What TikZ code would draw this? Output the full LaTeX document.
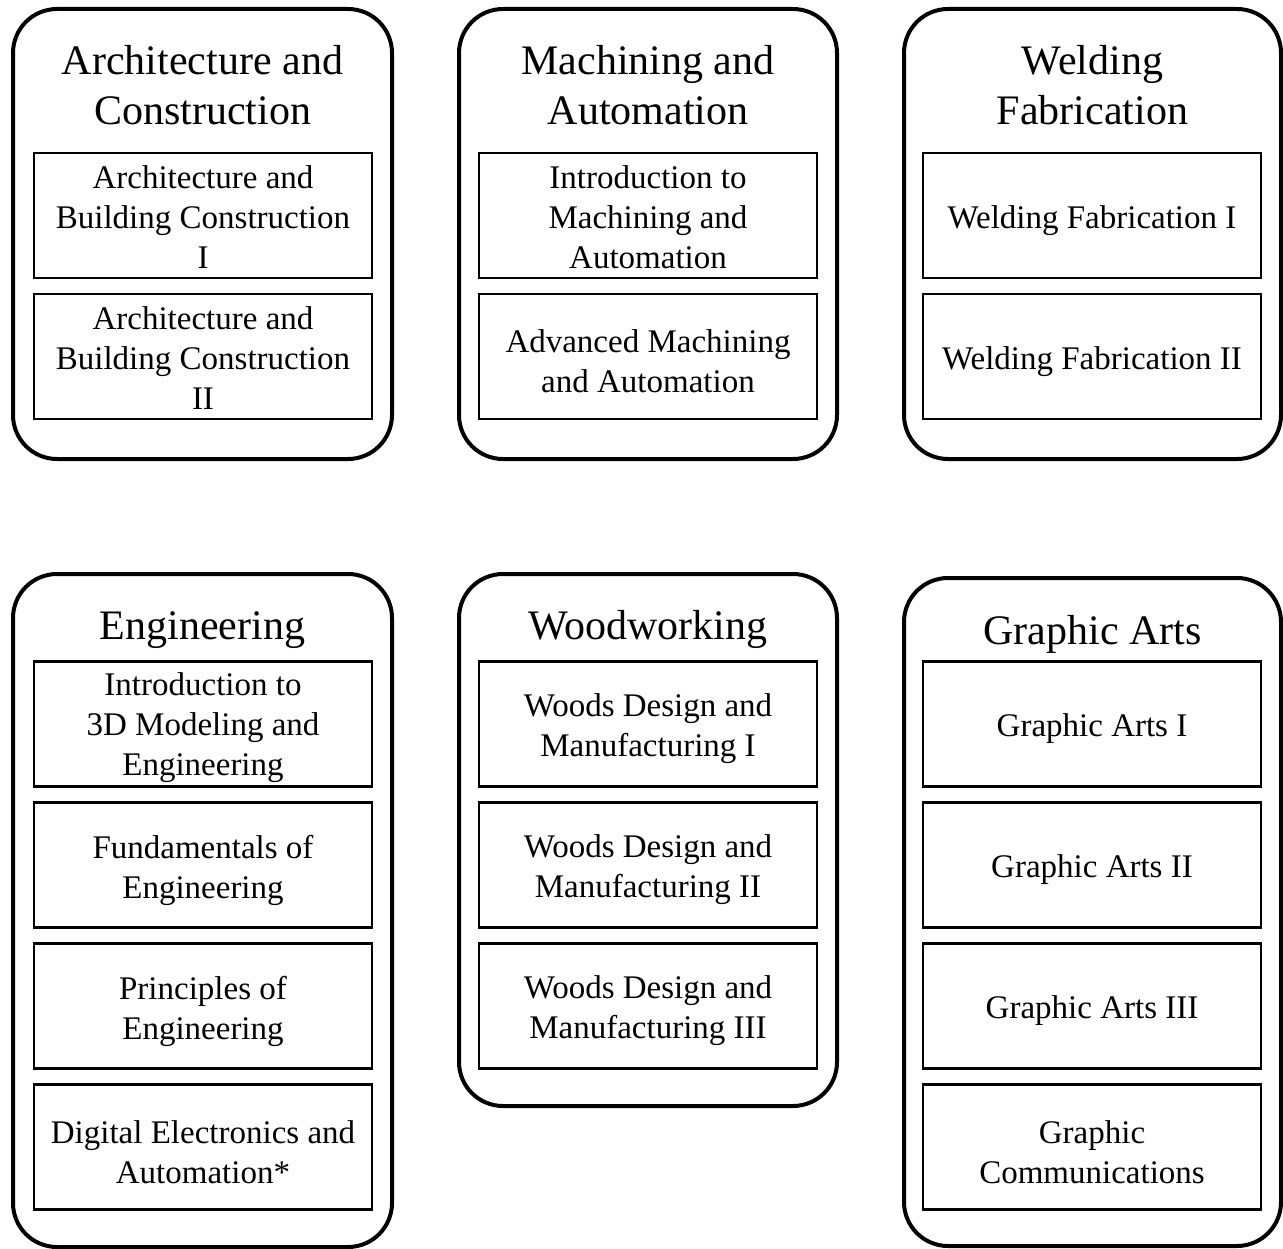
\documentclass[tikz,border=0pt]{standalone}
\usepackage{fontspec}
\setmainfont{Liberation Serif}
\newcommand\coursenode[4][-5pt]{%
  \node[coursebox] (#2) at (#3) {};
  \node[coursetext] (#2t) at ([yshift=#1]#2.center) {#4};}
\begin{document}
\begin{tikzpicture}[x=1pt,y=-1pt,
  outerbox/.style={draw, line width=4pt, rounded corners=44pt, inner sep=0pt},
  coursebox/.style={draw, line width=2.6pt, inner sep=0pt, minimum width=338pt, minimum height=125pt},
  coursetext/.style={align=center, inner sep=0pt, font=\fontsize{33}{40}\selectfont},
  heading/.style={align=center, inner sep=0pt, font=\fontsize{42}{50}\selectfont}]
\useasboundingbox (0,0) rectangle (1283,1249);
% outer boxes
\node[outerbox, minimum width=379pt, minimum height=450pt] (arch) at (202.5,234) {};
\node[outerbox, minimum width=378pt, minimum height=450pt] (mach) at (648,234) {};
\node[outerbox, minimum width=377pt, minimum height=450pt] (weld) at (1092.5,234) {};
\node[outerbox, minimum width=379pt, minimum height=673pt] (eng) at (202.5,910.5) {};
\node[outerbox, minimum width=378pt, minimum height=532pt] (wood) at (648,840) {};
\node[outerbox, minimum width=377pt, minimum height=668pt] (graph) at (1092.5,912) {};
% headings
\node[heading] (archT) at (202.5,85) {Architecture and\\Construction};
\node[heading] (machT) at (648,85) {Machining and\\Automation};
\node[heading] (weldT) at (1092.5,85) {Welding\\Fabrication};
\node[heading] (engT) at (202.5,630) {Engineering};
\node[heading] (woodT) at (648,629) {Woodworking};
\node[heading] (graphT) at (1092.5,634) {Graphic Arts};
% courses top row
\coursenode[-2pt]{a1}{203,215.5}{Architecture and\\Building Construction\\I}
\coursenode[-2pt]{a2}{203,356.5}{Architecture and\\Building Construction\\II}
\coursenode[-2pt]{m1}{648,215.5}{Introduction to\\Machining and\\Automation}
\coursenode{m2}{648,356.5}{Advanced Machining\\and Automation}
\coursenode{w1}{1092,215.5}{Welding Fabrication I}
\coursenode{w2}{1092,356.5}{Welding Fabrication II}
% courses bottom row
\coursenode[-4pt]{e1}{203,724}{Introduction to\\3D Modeling and\\Engineering}
\coursenode{e2}{203,865}{Fundamentals of\\Engineering}
\coursenode{e3}{203,1006}{Principles of\\Engineering}
\coursenode{e4}{203,1147}{Digital Electronics and\\Automation*}
\coursenode{d1}{648,724}{Woods Design and\\Manufacturing I}
\coursenode{d2}{648,865}{Woods Design and\\Manufacturing II}
\coursenode{d3}{648,1006}{Woods Design and\\Manufacturing III}
\coursenode{g1}{1092,724}{Graphic Arts I}
\coursenode{g2}{1092,865}{Graphic Arts II}
\coursenode{g3}{1092,1006}{Graphic Arts III}
\coursenode{g4}{1092,1147}{Graphic\\Communications}
\end{tikzpicture}
\end{document}
